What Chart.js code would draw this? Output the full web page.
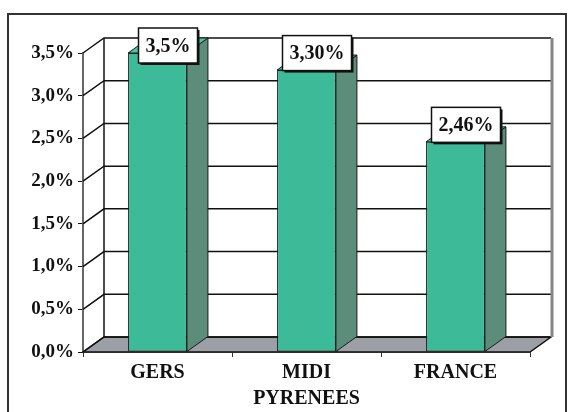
<!DOCTYPE html>
<html>
<head>
<meta charset="utf-8">
<script src="https://cdn.jsdelivr.net/npm/chart.js@4.4.0/dist/chart.umd.min.js"></script>
<style>
  html, body { margin: 0; padding: 0; background: #fff; }
  #wrap { position: relative; width: 569px; height: 412px; }
</style>
</head>
<body>
<div id="wrap"><canvas id="chart" width="569" height="412"></canvas></div>
<script>
const categories = ['GERS', ['MIDI', 'PYRENEES'], 'FRANCE'];
const rates = [3.5, 3.3, 2.46];
const rateLabels = ['3,5%', '3,30%', '2,46%'];

// depth of the fake 3d box
const DX = 21;
const DY = -15;
const serif = "'Liberation Serif', 'Times New Roman', serif";

const frame3d = {
    id: 'frame3d',
    beforeDatasetsDraw(chart) {
        const { ctx, chartArea: a, scales: { y } } = chart;
        ctx.save();
        // floor
        ctx.fillStyle = '#9c9fa5';
        ctx.beginPath();
        ctx.moveTo(a.left, a.bottom);
        ctx.lineTo(a.right, a.bottom);
        ctx.lineTo(a.right + DX, a.bottom + DY);
        ctx.lineTo(a.left + DX, a.bottom + DY);
        ctx.closePath();
        ctx.fill();
        ctx.strokeStyle = '#111';
        ctx.lineWidth = 1.5;
        ctx.stroke();

        // grid lines: diagonal on the side wall, then flat on the back wall
        y.ticks.forEach(t => {
            const yy = y.getPixelForValue(t.value);
            ctx.beginPath();
            ctx.moveTo(a.left, yy);
            ctx.lineTo(a.left + DX, yy + DY);
            ctx.lineTo(a.right + DX, yy + DY);
            ctx.stroke();
        });

        // back wall edges
        ctx.beginPath();
        ctx.moveTo(a.left + DX, a.top + DY);
        ctx.lineTo(a.left + DX, a.bottom + DY);
        ctx.stroke();
        ctx.strokeStyle = '#8a8484';
        ctx.lineWidth = 3;
        ctx.beginPath();
        ctx.moveTo(a.right + DX + 1, a.top + DY);
        ctx.lineTo(a.right + DX + 1, a.bottom + DY);
        ctx.stroke();
        ctx.restore();
    },
    afterDatasetsDraw(chart) {
        const { ctx } = chart;
        const meta = chart.getDatasetMeta(0);
        ctx.save();
        meta.data.forEach((bar, i) => {
            const { x, y, base, width } = bar.getProps(['x', 'y', 'base', 'width'], true);
            const l = x - width / 2;
            const r = x + width / 2;
            ctx.lineWidth = 1;
            ctx.strokeStyle = '#1a1a1a';
            // side face
            ctx.fillStyle = '#5b8d7a';
            ctx.beginPath();
            ctx.moveTo(r, y);
            ctx.lineTo(r + DX, y + DY);
            ctx.lineTo(r + DX, base + DY);
            ctx.lineTo(r, base);
            ctx.closePath();
            ctx.fill();
            ctx.stroke();
            // top face
            ctx.fillStyle = '#4cc3a2';
            ctx.beginPath();
            ctx.moveTo(l, y);
            ctx.lineTo(r, y);
            ctx.lineTo(r + DX, y + DY);
            ctx.lineTo(l + DX, y + DY);
            ctx.closePath();
            ctx.fill();
            ctx.stroke();

            // value box
            ctx.font = 'bold 20px ' + serif;
            const txt = rateLabels[i];
            const bw = ctx.measureText(txt).width + 14;
            const bh = 35;
            const cx = x + DX / 2;
            let top = y - 17 - bh / 2;
            if (top < 28) top = 28;
            ctx.fillStyle = '#111';
            ctx.fillRect(cx - bw / 2 + 2, top + 2, bw, bh);
            ctx.fillStyle = '#fff';
            ctx.fillRect(cx - bw / 2, top, bw, bh);
            ctx.strokeStyle = '#111';
            ctx.lineWidth = 1.5;
            ctx.strokeRect(cx - bw / 2, top, bw, bh);
            ctx.fillStyle = '#111';
            ctx.textAlign = 'center';
            ctx.textBaseline = 'middle';
            ctx.fillText(txt, cx, top + bh / 2 + 1);
        });
        ctx.restore();
    },
    afterDraw(chart) {
        const { ctx } = chart;
        ctx.save();
        ctx.strokeStyle = '#333';
        ctx.lineWidth = 2;
        ctx.strokeRect(8, 14, 558, 410);
        ctx.restore();
    }
};

new Chart(document.getElementById('chart'), {
    type: 'bar',
    data: {
        labels: categories,
        datasets: [{
            data: rates,
            backgroundColor: '#3dbb98',
            borderColor: '#1a1a1a',
            borderWidth: 1,
            borderSkipped: false,
            categoryPercentage: 1,
            barPercentage: 0.395
        }]
    },
    options: {
        responsive: false,
        devicePixelRatio: 1,
        animation: false,
        layout: { padding: { top: 53, right: 39, bottom: 0, left: 0 } },
        plugins: {
            legend: { display: false },
            tooltip: { enabled: false }
        },
        scales: {
            x: {
                afterFit: s => { s.height = 60; },
                grid: {
                    offset: true,
                    drawOnChartArea: false,
                    drawTicks: true,
                    tickLength: 5,
                    color: '#333'
                },
                border: { display: true, color: '#111', width: 1.5 },
                ticks: {
                    color: '#111',
                    padding: 3,
                    maxRotation: 0,
                    font: { family: serif, size: 20, weight: 'bold', lineHeight: 1.3 }
                }
            },
            y: {
                min: 0,
                max: 3.5,
                afterFit: s => { s.width = 83; },
                grid: {
                    drawOnChartArea: false,
                    drawTicks: true,
                    tickLength: 5,
                    color: '#111'
                },
                border: { display: true, color: '#666', width: 2 },
                ticks: {
                    stepSize: 0.5,
                    color: '#111',
                    padding: 4,
                    font: { family: serif, size: 19, weight: 'bold' },
                    callback: v => v.toFixed(1).replace('.', ',') + '%'
                }
            }
        }
    },
    plugins: [frame3d]
});
</script>
</body>
</html>
